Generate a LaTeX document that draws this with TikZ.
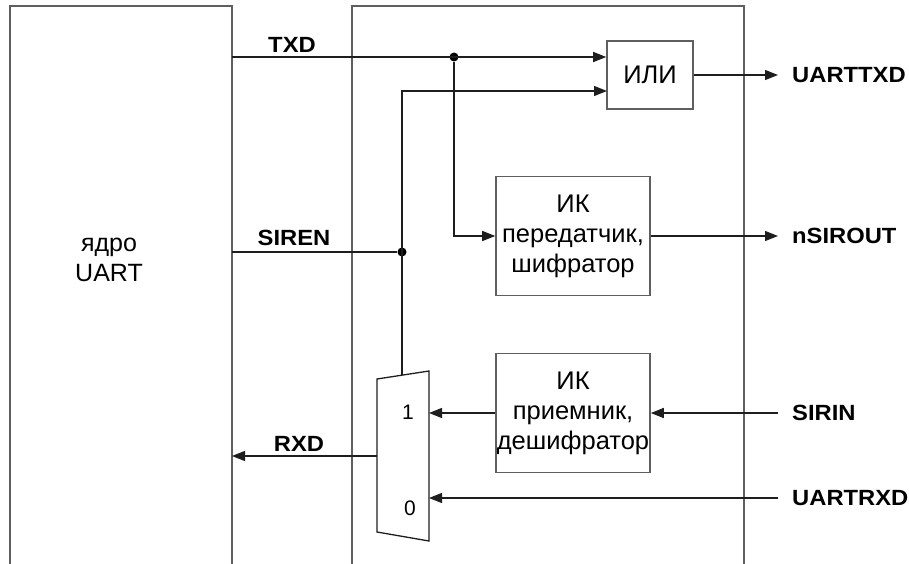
\documentclass[tikz,border=0pt]{standalone}
\usepackage{fontspec}
\setmainfont{Liberation Sans}
\newfontfamily\pinfont[FakeStretch=1.08]{Liberation Sans Bold}
\usetikzlibrary{arrows.meta, positioning}
\definecolor{wire}{RGB}{30, 30, 30}
\definecolor{frame}{RGB}{95, 95, 95}

\begin{document}
\begin{tikzpicture}[x=1pt, y=-1pt]
    \tikzstyle{blk} = [rectangle, draw=frame, line width=1.6pt, fill=white,
                       align=center, inner sep=0pt,
                       font=\fontsize{25.5}{30}\selectfont]
    \tikzstyle{arr} = [-{Triangle[length=13pt, width=10pt]}, line width=1.3pt, color=wire]
    \tikzstyle{wireln} = [line width=1.3pt, color=wire]
    \tikzstyle{sig} = [font=\fontsize{22}{26}\pinfont]
    \tikzstyle{pin} = [sig, anchor=west, inner xsep=14pt]
    \tikzstyle{jdot} = [circle, fill=black, inner sep=0pt, minimum size=9pt]

    \useasboundingbox (0,0) rectangle (909,564);

    % frames, open at the bottom
    \draw[frame, line width=1.6pt] (10,564) |- (232,6) -- (232,564);
    \draw[frame, line width=1.6pt] (352,564) |- (744,6) -- (744,564);
    \node[align=center, font=\fontsize{25}{30}\selectfont] (core) at (109,260) {ядро\\UART};

    \node[blk, minimum width=86pt, minimum height=68pt]   (or) at (650,75)  {ИЛИ};
    \node[blk, minimum width=154pt, minimum height=119pt] (tx) at (573,236) {ИК\\передатчик,\\шифратор};
    \node[blk, minimum width=154pt, minimum height=119pt] (rx) at (573,413) {ИК\\приемник,\\дешифратор};

    % multiplexer
    \coordinate (mtl) at (377,379);
    \coordinate (mtr) at (429,371);
    \coordinate (mbr) at (429,541);
    \coordinate (mbl) at (377,532);
    \draw[wireln] (mtl) -- (mtr) -- (mbr) -- (mbl) -- cycle;
    \node[font=\fontsize{21}{25}\selectfont] (one)  at (408,412) {1};
    \node[font=\fontsize{21}{25}\selectfont] (zero) at (410,508) {0};
    \coordinate (mout) at (402,375);
    \coordinate (in1)  at (429,413);
    \coordinate (in0)  at (429,498);
    \coordinate (rxout) at (377,456);
    \coordinate (orB)  at (607,91);

    % core side
    \coordinate (txdL)   at (232,57);
    \coordinate (sirenL) at (232,252);
    \coordinate (rxdL)   at (232,456);
    \node[sig] (txd)   at (292,45)  {TXD};
    \node[sig] (siren) at (294,238) {SIREN};
    \node[sig] (rxd)   at (299,444) {RXD};

    % pins
    \node[pin] (uarttxd) at (778,75)  {UARTTXD};
    \node[pin] (nsirout) at (778,236) {nSIROUT};
    \node[pin] (sirin)   at (778,413) {SIRIN};
    \node[pin] (uartrxd) at (778,498) {UARTRXD};

    \node[jdot] (j1) at (454,57)  {};
    \node[jdot] (j2) at (402,252) {};

    \draw[arr] (txdL) -- (or.west |- txdL);
    \draw[arr] (j1) |- (tx.west);
    \draw[arr] (mout) |- (orB);
    \draw[wireln] (sirenL) -- (j2);
    \draw[arr] (or) -- (uarttxd);
    \draw[arr] (tx) -- (nsirout);
    \draw[arr] (sirin) -- (rx);
    \draw[arr] (rx) -- (in1);
    \draw[arr] (uartrxd) -- (in0);
    \draw[arr] (rxout) -- (rxdL);
\end{tikzpicture}
\end{document}
